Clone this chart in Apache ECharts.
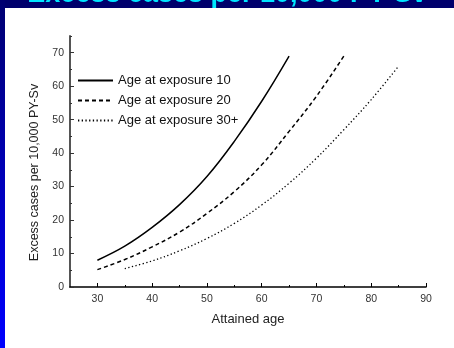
<!DOCTYPE html>
<html>
<head>
<meta charset="utf-8">
<script src="https://cdn.jsdelivr.net/npm/echarts@6/dist/echarts.min.js"></script>
<style>
html,body{margin:0;padding:0;background:#fff;}
#c{width:454px;height:348px;}
</style>
</head>
<body>
<div id="c"></div>
<script>
// ---- data ----
const titleText = 'Excess cases per 10,000 PY-Sv';
const xName = 'Attained age';
const yName = 'Excess cases per 10,000 PY-Sv';
const seriesNames = ['Age at exposure 10', 'Age at exposure 20', 'Age at exposure 30+'];
const ages10 = [30, 35, 40, 45, 50, 55, 60, 65];
const excess10 = [8, 12.2, 17.8, 24.6, 33, 43.5, 55.5, 69];
const ages20 = [30, 35, 40, 45, 50, 55, 60, 65, 70, 75];
const excess20 = [5.2, 8.2, 12, 16.4, 22, 28.5, 36.5, 46.5, 57, 69];
const ages30 = [35, 40, 45, 50, 55, 60, 65, 70, 75, 80, 85];
const excess30 = [5.5, 7.8, 10.8, 14.5, 19, 24.5, 31, 38.5, 47, 56, 66];
const xTickLabels = [30, 40, 50, 60, 70, 80, 90];
const xMinorTicks = [35, 45, 55, 65, 75, 85];
const yTickLabels = [0, 10, 20, 30, 40, 50, 60, 70];
const yMinorTicks = [5, 15, 25, 35, 45, 55, 65, 75];

const FONT = '"Liberation Sans", Arial, sans-serif';
const pairs = (xs, ys) => xs.map((x, i) => [x, ys[i]]);

const chart = echarts.init(document.getElementById('c'), null, {renderer: 'canvas'});
const commonX = {type: 'value', min: 25, max: 90, interval: 5, gridIndex: 0, position: 'bottom', splitLine: {show: false}};
const commonY = {type: 'value', min: 0, max: 75, interval: 5, gridIndex: 0, position: 'left', splitLine: {show: false}};

chart.setOption({
  animation: false,
  backgroundColor: 'transparent',
  graphic: {
    elements: [
      {type: 'rect', z: -20, silent: true, shape: {x: 0, y: 0, width: 454, height: 348}, style: {fill: '#00006c'}},
      {type: 'rect', z: -19, silent: true, shape: {x: 0, y: 0, width: 5, height: 348},
        style: {fill: new echarts.graphic.LinearGradient(0, 0, 0, 1, [{offset: 0, color: '#000070'}, {offset: 1, color: '#0000ff'}])}},
      {type: 'text', z: -18, silent: true, style: {text: titleText, x: 227, y: -5, fill: '#00e6ff', font: 'bold 27px ' + FONT, align: 'center', verticalAlign: 'middle'}},
      {type: 'rect', z: -17, silent: true, shape: {x: 5, y: 8, width: 449, height: 340}, style: {fill: '#ffffff'}}
    ]
  },
  grid: {left: 70, right: 28, top: 36, bottom: 61},
  legend: {
    orient: 'vertical', left: 77, top: 74, padding: 0,
    itemWidth: 35, itemHeight: 12, itemGap: 7,
    itemStyle: {opacity: 0},
    textStyle: {fontSize: 13, color: '#111', fontFamily: FONT},
    data: seriesNames
  },
  xAxis: [
    Object.assign({}, commonX, {
      name: xName, nameLocation: 'middle', nameGap: 26,
      nameTextStyle: {fontSize: 13, color: '#222', fontFamily: FONT},
      axisLine: {show: true, lineStyle: {color: '#000', width: 1.5}},
      axisTick: {show: true, inside: true, length: 4, customValues: xTickLabels, lineStyle: {color: '#000', width: 1}},
      axisLabel: {show: true, customValues: xTickLabels, margin: 7, fontSize: 10.5, color: '#333', fontFamily: FONT}
    }),
    Object.assign({}, commonX, {
      axisLine: {show: false},
      axisTick: {show: true, inside: true, length: 2, customValues: xMinorTicks, lineStyle: {color: '#000', width: 1}},
      axisLabel: {show: false}
    })
  ],
  yAxis: [
    Object.assign({}, commonY, {
      name: yName, nameLocation: 'middle', nameGap: 21,
      nameTextStyle: {fontSize: 12.5, color: '#222', fontFamily: FONT, padding: [0, 22, 0, 0]},
      axisLine: {show: true, lineStyle: {color: '#555', width: 2}},
      axisTick: {show: true, inside: true, length: 4, customValues: yTickLabels, lineStyle: {color: '#333', width: 1}},
      axisLabel: {show: true, customValues: yTickLabels, margin: 6, fontSize: 10.5, color: '#333', fontFamily: FONT}
    }),
    Object.assign({}, commonY, {
      axisLine: {show: false},
      axisTick: {show: true, inside: true, length: 2, customValues: yMinorTicks, lineStyle: {color: '#333', width: 1}},
      axisLabel: {show: false}
    })
  ],
  series: [
    {name: seriesNames[0], type: 'line', xAxisIndex: 0, yAxisIndex: 0, data: pairs(ages10, excess10), symbol: 'none', smooth: 0.4,
      lineStyle: {color: '#000', width: 1.5, type: 'solid'}, itemStyle: {color: '#000'}},
    {name: seriesNames[1], type: 'line', xAxisIndex: 0, yAxisIndex: 0, data: pairs(ages20, excess20), symbol: 'none', smooth: 0.4,
      lineStyle: {color: '#000', width: 1.5, type: [4, 3]}, itemStyle: {color: '#000'}},
    {name: seriesNames[2], type: 'line', xAxisIndex: 0, yAxisIndex: 0, data: pairs(ages30, excess30), symbol: 'none', smooth: 0.4,
      lineStyle: {color: '#000', width: 1.3, type: [1.3, 2.4]}, itemStyle: {color: '#000'}}
  ]
});
</script>
</body>
</html>
